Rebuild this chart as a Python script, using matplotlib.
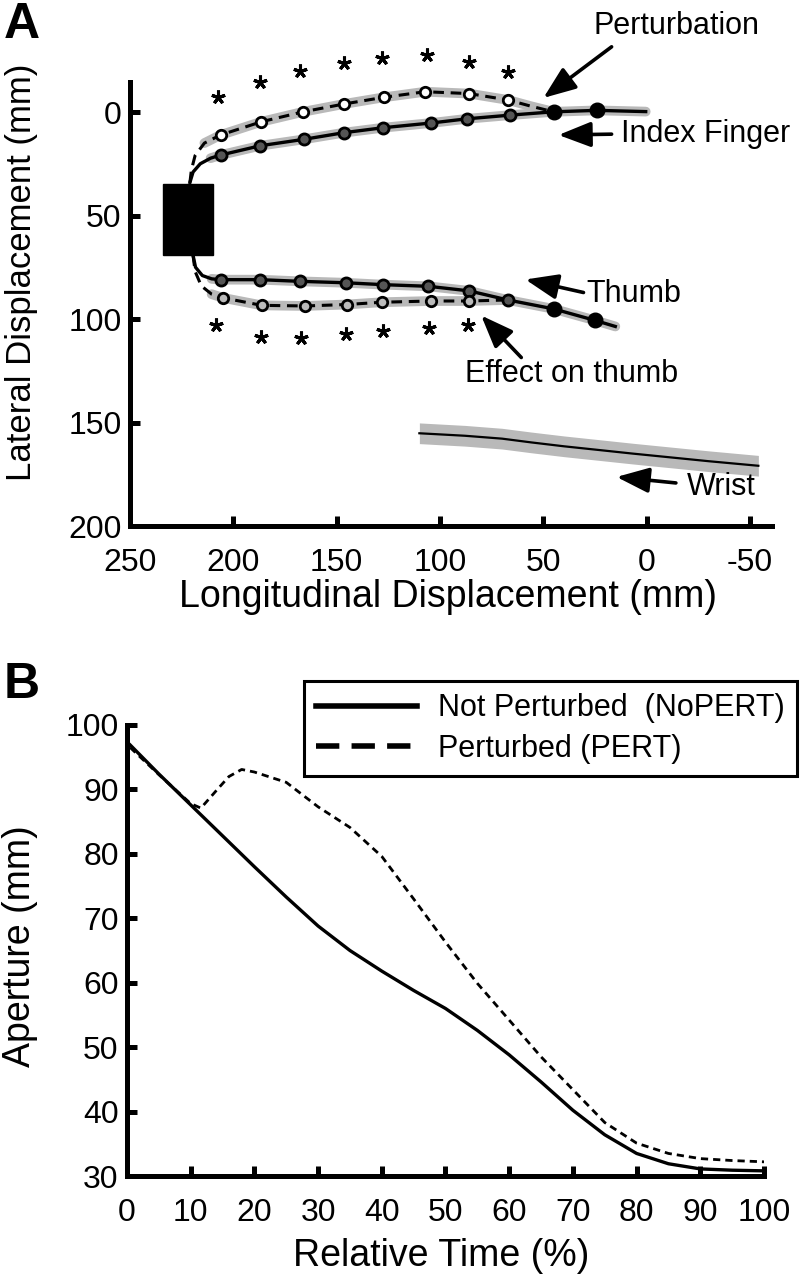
import matplotlib.pyplot as plt
from matplotlib.lines import Line2D
from matplotlib.patches import Rectangle

plt.rcParams['font.family'] = ['Liberation Sans', 'DejaVu Sans']

W, H = 800, 1278

# ---------------- Panel A: trajectories (mm) ----------------
# index finger, not perturbed (solid)
index_lead_x = [221, 219.5, 216, 211]
index_lead_y = [34, 29, 25, 22.3]
index_mk_x = [206.2, 187.0, 165.9, 146.6, 127.7, 104.2, 87.2, 66.0]
index_mk_y = [20.8, 16.3, 13.2, 10.0, 7.6, 5.3, 3.3, 1.5]
index_big_x = [45.1, 24.1]
index_big_y = [-0.1, -0.8]
index_end_x = [0.5]
index_end_y = [-0.2]

# index finger, perturbed (dashed)
pert_lead_x = [221, 220.3, 218.5, 214]
pert_lead_y = [34, 28, 21, 15]
pert_mk_x = [206.2, 186.4, 166.2, 146.3, 127.2, 107.2, 85.9, 67.0]
pert_mk_y = [11.1, 4.7, -0.1, -3.9, -7.1, -9.8, -8.9, -5.8]
pert_end_x = [56, 45.1]
pert_end_y = [-2.8, -0.1]

# thumb, not perturbed (solid)
thumb_lead_x = [219.5, 218.3, 215, 210.5]
thumb_lead_y = [69.2, 75, 79, 80.6]
thumb_mk_x = [205.8, 187.1, 167.7, 145.5, 127.7, 105.6, 86.0, 67.2]
thumb_mk_y = [81.0, 81.0, 81.8, 82.5, 83.4, 84.2, 86.4, 90.8]
thumb_big_x = [45.1, 24.9]
thumb_big_y = [95.1, 100.7]
thumb_end_x = [15.2]
thumb_end_y = [103.6]

# effect on thumb (dashed)
eff_lead_x = [219.5, 218.5, 215.5, 210.5]
eff_lead_y = [69.2, 77, 84, 88]
eff_mk_x = [204.9, 186.3, 165.3, 145.2, 128.2, 104.3, 86.2]
eff_mk_y = [89.8, 93.4, 93.7, 93.0, 91.9, 91.3, 91.3]
eff_end_x = [67.2]
eff_end_y = [90.8]

# significance stars
stars_up_x = [207.5, 187.3, 167.7, 146.6, 128.0, 106.5, 86.2, 67.0]
stars_up_y = [-7.4, -14.7, -19.6, -23.6, -26.0, -27.5, -24.4, -19.1]
stars_dn_x = [208.6, 186.8, 167.4, 145.5, 127.7, 105.2, 86.4]
stars_dn_y = [103.1, 108.8, 109.1, 107.1, 105.6, 104.5, 103.1]

# wrist
wrist_x = [110, 88, 70, 56, 40, 23, 7, -9, -30, -54]
wrist_y = [155.2, 156.4, 157.8, 159.6, 161.5, 163.3, 165.0, 166.6, 168.7, 170.9]
wrist_sd = 5.0

# object (black block)
block_x = [210, 234]
block_y = [35, 69]

# ---------------- Panel B: aperture ----------------
time_nopert = [0.5, 5, 10, 15, 20, 25, 30, 35, 40, 45, 50, 55, 60, 65, 70,
               75, 80, 85, 90, 95, 100]
aperture_nopert = [96.9, 92.4, 87.6, 82.8, 78.0, 73.3, 68.8, 65.0, 61.8, 58.8,
                   56.0, 52.6, 48.8, 44.6, 40.2, 36.4, 33.5, 31.9, 31.1, 30.9, 30.8]
time_pert = [0.5, 5, 10, 11.6, 14, 16, 18, 20, 25, 30, 35, 40, 45, 50, 55, 60,
             65, 70, 75, 80, 85, 90, 95, 100]
aperture_pert = [96.5, 92.3, 87.8, 87.1, 89.8, 92.0, 93.1, 92.7, 91.1, 87.3,
                 84.1, 79.6, 73.0, 66.3, 59.9, 54.2, 48.5, 43.4, 38.3, 35.1,
                 33.5, 32.7, 32.4, 32.2]


def fx(px):
    return px / W


def fy(py):
    return 1 - py / H


def style_axes(ax):
    for s in ['top', 'right']:
        ax.spines[s].set_visible(False)
    for s in ['left', 'bottom']:
        ax.spines[s].set_linewidth(3.6)
    ax.tick_params(direction='in', length=7, width=3.6, labelsize=23)
    ax.tick_params(axis='x', pad=16)
    ax.tick_params(axis='y', pad=6)


fig = plt.figure(figsize=(W / 100, H / 100), dpi=100)

# ======================= A =======================
axA = fig.add_axes([fx(130), fy(526), fx(772) - fx(130), fy(82) - fy(526)])
style_axes(axA)
axA.set_xlim(250, -60.6)
axA.set_ylim(200, -14.5)
axA.set_xticks([250, 200, 150, 100, 50, 0, -50])
axA.set_xticklabels(['250', '200', '150', '100', '50', '0', '-50'])
axA.set_yticks([0, 50, 100, 150, 200])

band = '#b9b9b9'

def path(*parts):
    out = []
    for p in parts:
        out += list(p)
    return out

ix = path(index_lead_x, index_mk_x, index_big_x, index_end_x)
iy = path(index_lead_y, index_mk_y, index_big_y, index_end_y)
px_ = path(pert_lead_x, pert_mk_x, pert_end_x)
py_ = path(pert_lead_y, pert_mk_y, pert_end_y)
tx = path(thumb_lead_x, thumb_mk_x, thumb_big_x, thumb_end_x)
ty = path(thumb_lead_y, thumb_mk_y, thumb_big_y, thumb_end_y)
ex = path(eff_lead_x, eff_mk_x, eff_end_x)
ey = path(eff_lead_y, eff_mk_y, eff_end_y)

# grey variability bands
for xs, ys in [(ix[3:], iy[3:]), (px_[3:], py_[3:]), (tx[3:], ty[3:]), (ex[3:], ey[3:])]:
    axA.plot(xs, ys, color=band, lw=7, solid_capstyle='round', zorder=1)

axA.plot(ix, iy, color='k', lw=2.4, zorder=3)
axA.plot(tx, ty, color='k', lw=2.4, zorder=3)
axA.plot(px_, py_, color='k', lw=2.2, dashes=(3.5, 2.2), zorder=3)
axA.plot(ex, ey, color='k', lw=2.2, dashes=(3.5, 2.2), zorder=3)

axA.plot(index_mk_x, index_mk_y, 'o', ms=8, mfc='#555555', mec='k', mew=2, zorder=4)
axA.plot(thumb_mk_x, thumb_mk_y, 'o', ms=8, mfc='#555555', mec='k', mew=2, zorder=4)
axA.plot(pert_mk_x, pert_mk_y, 'o', ms=7.5, mfc='white', mec='k', mew=2, zorder=5)
axA.plot(eff_mk_x, eff_mk_y, 'o', ms=7.5, mfc='#bbbbbb', mec='k', mew=2, zorder=5)
axA.plot(index_big_x, index_big_y, 'o', ms=10.5, color='k', zorder=5)
axA.plot(thumb_big_x, thumb_big_y, 'o', ms=10.5, color='k', zorder=5)

axA.plot(stars_up_x, stars_up_y, ls='none', marker=(5, 2, 0), ms=10, mew=2.2,
         color='k', clip_on=False)
axA.plot(stars_dn_x, stars_dn_y, ls='none', marker=(5, 2, 0), ms=10, mew=2.2,
         color='k', clip_on=False)

axA.fill_between(wrist_x, [v - wrist_sd for v in wrist_y],
                 [v + wrist_sd for v in wrist_y], color=band, lw=0, zorder=1)
axA.plot(wrist_x, wrist_y, color='k', lw=1.6, zorder=2)

axA.add_patch(Rectangle((block_x[0], block_y[0]), block_x[1] - block_x[0],
                        block_y[1] - block_y[0], color='k', zorder=6))

arrow = dict(arrowstyle='-|>,head_length=0.9,head_width=0.35', lw=2.6,
             color='k', shrinkA=0, shrinkB=0, mutation_scale=22)
notes = [
    ('Perturbation', (-14.6, -41.6), (17.0, -31.5), (50.0, -6.8)),
    ('Index Finger', (-28.6, 10.7), (17.0, 10.7), (42.7, 11.1)),
    ('Thumb', (6.3, 88.1), (30.6, 87.2), (58.7, 80.9)),
    ('Effect on thumb', (36.4, 126.4), (60.7, 118.6), (80.1, 98.3)),
    ('Wrist', (-35.9, 181.1), (-14.1, 179.2), (14.6, 176.3)),
]
for label, tpos, tail, head in notes:
    axA.annotate('', xy=head, xytext=tail, arrowprops=arrow,
                 annotation_clip=False)
    axA.text(tpos[0], tpos[1], label, fontsize=22, ha='center', va='center')

fig.text(fx(22), fy(272), 'Lateral Displacement (mm)', fontsize=25,
         rotation=90, ha='center', va='center')
fig.text(fx(448), fy(597), 'Longitudinal Displacement (mm)', fontsize=27,
         ha='center', va='center')
fig.text(fx(22), fy(2), 'A', fontsize=36, fontweight='bold',
         ha='center', va='top')

# ======================= B =======================
axB = fig.add_axes([fx(127), fy(1176), fx(764) - fx(127), fy(725) - fy(1176)])
style_axes(axB)
axB.set_xlim(0, 100)
axB.set_ylim(30, 100)
axB.set_xticks(range(0, 101, 10))
axB.set_yticks(range(30, 101, 10))

axB.plot(time_nopert, aperture_nopert, color='k', lw=2.4)
axB.plot(time_pert, aperture_pert, color='k', lw=2.0, dashes=(2.6, 1.8))

handles = [Line2D([], [], color='k', lw=4),
           Line2D([], [], color='k', lw=4, dashes=(4.2, 2.2))]
leg = axB.legend(handles, ['Not Perturbed  (NoPERT)', 'Perturbed (PERT)'],
                 loc='upper right', bbox_to_anchor=(fx(797), fy(681)),
                 bbox_transform=fig.transFigure, borderaxespad=0,
                 fontsize=22, fancybox=False, framealpha=1, edgecolor='k',
                 handlelength=3.3, handletextpad=0.7, labelspacing=0.35,
                 borderpad=0.4)
leg.get_frame().set_linewidth(2.2)

fig.text(fx(20), fy(946), 'Aperture (mm)', fontsize=27, rotation=90,
         ha='center', va='center')
fig.text(fx(441), fy(1256), 'Relative Time (%)', fontsize=27,
         ha='center', va='center')
fig.text(fx(22), fy(662), 'B', fontsize=36, fontweight='bold',
         ha='center', va='top')

fig.savefig('out.png', dpi=100)
